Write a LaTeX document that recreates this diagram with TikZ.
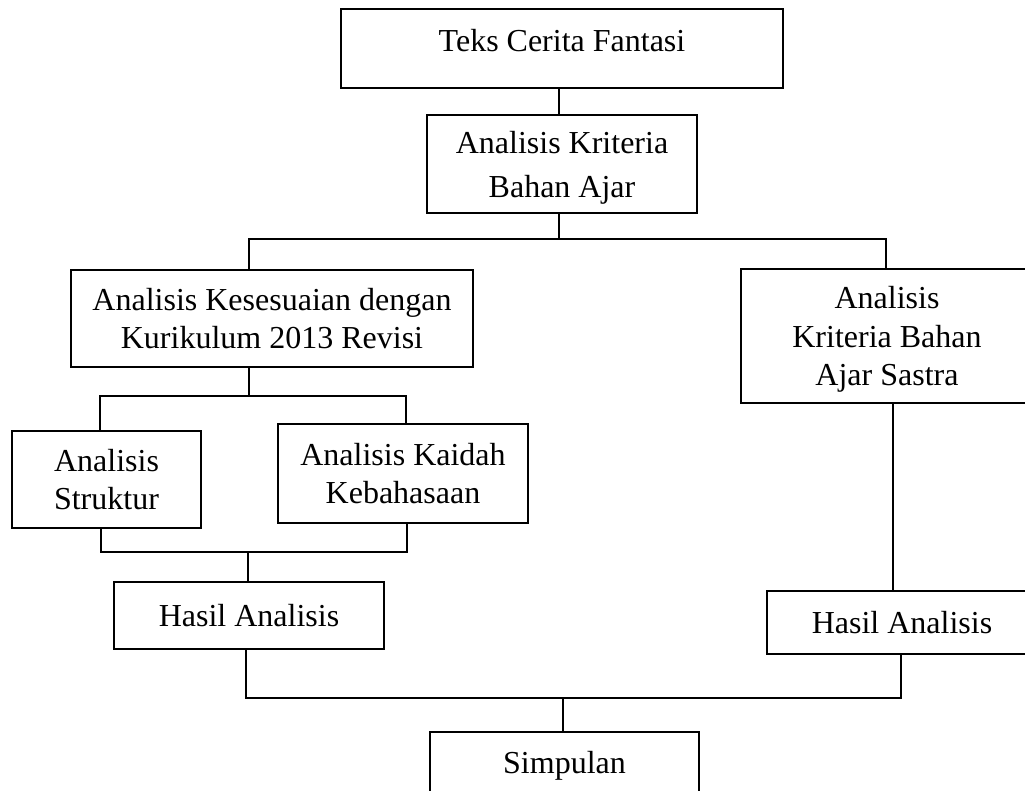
\documentclass[tikz,border=0pt]{standalone}
\usepackage{fontspec}
\setmainfont{Liberation Serif}

\begin{document}
\begin{tikzpicture}[x=0.75pt, y=-0.75pt,
        box/.style={draw, line width=1.6pt, inner sep=0pt, align=center, font=\fontsize{24}{29}\selectfont},
        link/.style={line width=1.5pt}]
      \useasboundingbox (0,0) rectangle (1025,791);
      \clip (0,0) rectangle (1025,791);
      % Nodes
      \node[box, anchor=north, minimum width=331.5pt, text height=31.5pt, text depth=27.75pt] (teks) at (562,8) {Teks Cerita Fantasi};
      \node[box, minimum width=202.5pt, minimum height=73.5pt, text depth=0pt] (kriteria) at (562,164) {Analisis Kriteria\\[4pt] Bahan Ajar};
      \node[box, minimum width=301.5pt, minimum height=72.75pt] (kesesuaian) at (272,318.5) {Analisis Kesesuaian dengan\\ Kurikulum 2013 Revisi};
      \node[box, minimum width=219pt, minimum height=100.5pt, text depth=0pt] (sastra) at (887,336) {Analisis\\ Kriteria Bahan\\ Ajar Sastra};
      \node[box, minimum width=141.75pt, minimum height=72.75pt] (struktur) at (106.5,479.5) {Analisis\\ Struktur};
      \node[box, minimum width=187.5pt, minimum height=74.25pt] (kaidah) at (403,473.5) {Analisis Kaidah\\ Kebahasaan};
      \node[box, minimum width=202.5pt, minimum height=50.25pt] (hasilA) at (249,615.5) {Hasil Analisis};
      \node[box, minimum width=202.5pt, minimum height=47.25pt] (hasilB) at (902,622.5) {Hasil Analisis};
      \node[box, anchor=north, minimum width=201.75pt, text height=30.75pt, text depth=22.5pt] (simpulan) at (564.5,731) {Simpulan};

      % Bus points
      \coordinate (bus1) at (559,239);
      \coordinate (bus2) at (249,396);
      \coordinate (bus3) at (248,552);
      \coordinate (bus4) at (563,698);

      % Edges
      \draw[link] ([xshift=-2.25pt]teks.south) -- ([xshift=-2.25pt]kriteria.north);
      \draw[link] ([xshift=-2.25pt]kriteria.south) -- (bus1);
      \draw[link] (bus1) -| ([xshift=-17.25pt]kesesuaian.north);
      \draw[link] (bus1) -| ([xshift=-0.75pt]sastra.north);
      \draw[link] ([xshift=-17.25pt]kesesuaian.south) -- (bus2);
      \draw[link] (bus2) -| ([xshift=-4.9pt]struktur.north);
      \draw[link] (bus2) -| ([xshift=2.25pt]kaidah.north);
      \draw[link] ([xshift=-4.1pt]struktur.south) |- (bus3);
      \draw[link] ([xshift=3pt]kaidah.south) |- (bus3);
      \draw[link] (bus3) -- (bus3 |- hasilA.north);
      \draw[link] ([xshift=4.5pt]sastra.south) -- ([xshift=4.5pt]sastra.south |- hasilB.north);
      \draw[link] ([xshift=-2.25pt]hasilA.south) |- (bus4);
      \draw[link] ([xshift=-0.75pt]hasilB.south) |- (bus4);
      \draw[link] (bus4) -- (bus4 |- simpulan.north);
    \end{tikzpicture}
\end{document}
